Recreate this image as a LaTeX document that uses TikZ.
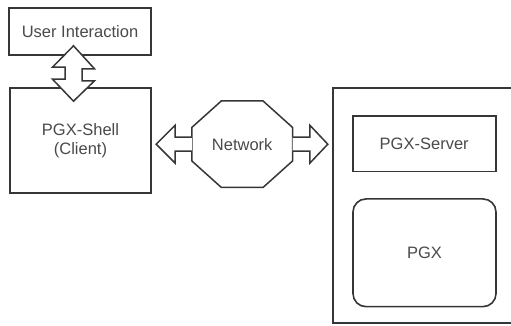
\documentclass[tikz,border=0pt]{standalone}
\usepackage{fontspec}
\setmainfont{Liberation Sans}
\usetikzlibrary{calc}
\definecolor{lineagris}{HTML}{363636}
\definecolor{textogris}{HTML}{4A4A4A}

\begin{document}
\begin{tikzpicture}[x=1pt,y=1pt,
    caja/.style={draw=lineagris, line width=1.6pt, fill=white, text=textogris,
        font=\fontsize{16.5}{19.5}\selectfont, align=center, inner sep=0pt},
    flecha/.style={draw=lineagris, line width=1.5pt, fill=white, line join=miter}]
    % El marco del servidor se sale por la derecha, así que recortamos.
    \clip (0,0) rectangle (511,326);
    \node[caja, minimum width=142, minimum height=47] (ui) at (80,294.5) {User Interaction};
    \node[caja, minimum width=141, minimum height=105] (client) at (80.5,185.5) {PGX-Shell\\(Client)};
    \node[caja, minimum width=207, minimum height=235] (server) at (436.5,120.5) {};
    \node[caja, minimum width=143, minimum height=55.7] (pgxserver) at (424.2,182.2) {PGX-Server};
    \node[caja, minimum width=143, minimum height=107.7, rounded corners=13] (pgx) at (424.5,73.2) {PGX};
    \node[caja, draw=none, fill=none, minimum width=99, minimum height=85] (net) at (242.2,181.8) {Network};
    \draw[flecha, fill=none] ($(net.north west)+(29.5,0)$) -- ($(net.north east)+(-29.5,0)$)
        -- ($(net.north east)+(0,-26.5)$) -- ($(net.south east)+(0,26.5)$)
        -- ($(net.south east)+(-29.5,0)$) -- ($(net.south west)+(29.5,0)$)
        -- ($(net.south west)+(0,26.5)$) -- ($(net.north west)+(0,-26.5)$) -- cycle;
    \draw[flecha] ($(net.west)+(0,7)$) -- ++(-16.7,0) -- ++(0,12) -- ++(-19,-19)
        -- ++(19,-19) -- ++(0,12) -- ++(16.7,0);
    \draw[flecha] ($(net.east)+(0,7)$) -- ++(17.3,0) -- ++(0,12) -- ++(18,-19)
        -- ++(-18,-19) -- ++(0,12) -- ++(-17.3,0);
    \coordinate (arr1) at ($(ui.south)+(-6.5,10)$);
    \coordinate (arr2) at ($(ui.south |- client.north)+(-6.5,-14)$);
    \draw[flecha] (arr1) -- ++(21,-23) -- ++(-12.5,0) -- ++(0,-12) -- ++(12.5,0)
        -- (arr2) -- ++(-21,22) -- ++(12.5,0) -- ++(0,12) -- ++(-12.5,0) -- cycle;
\end{tikzpicture}
\end{document}
